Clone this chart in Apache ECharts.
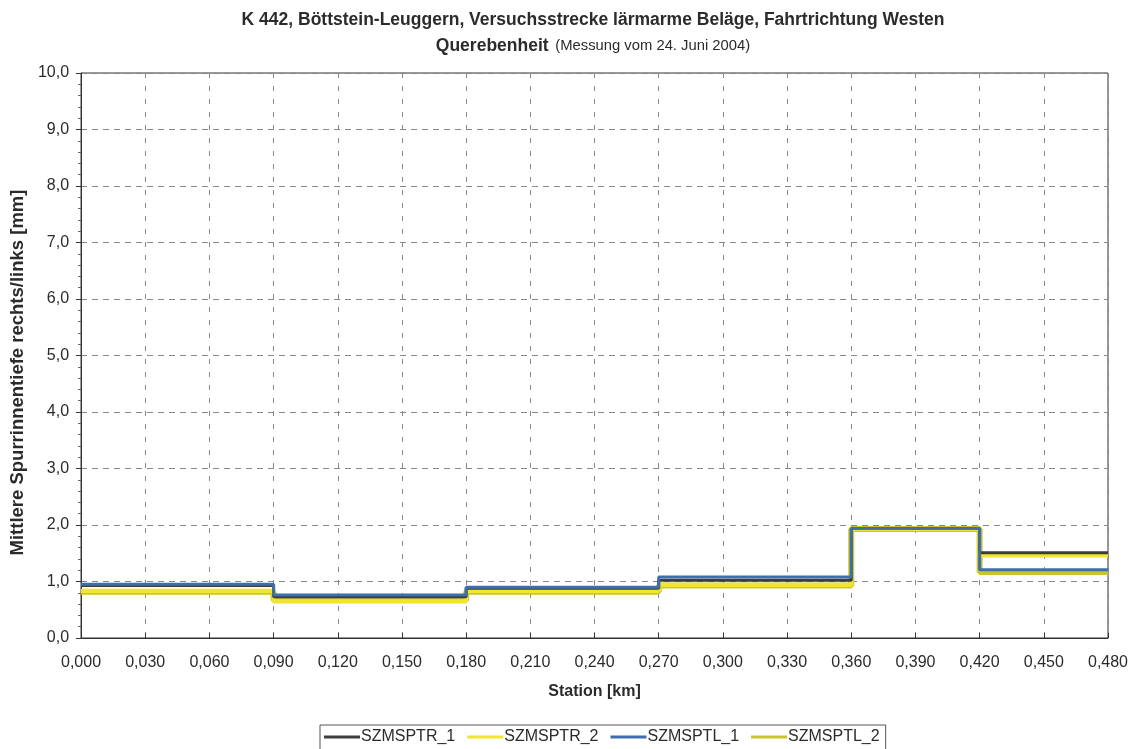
<!DOCTYPE html>
<html>
<head>
<meta charset="utf-8">
<script src="https://cdn.jsdelivr.net/npm/echarts@6/dist/echarts.min.js"></script>
<style>
  html, body { margin: 0; padding: 0; background: #fff; }
  #chart { width: 1137px; height: 749px; }
</style>
</head>
<body>
<div id="chart"></div>
<script>
// Section boundaries along the station axis [km]
const stations = [0.000, 0.090, 0.180, 0.270, 0.360, 0.420, 0.480];

// Mean rut depth per section [mm] (last value repeated to close the step)
const szmsptr1 = [0.93, 0.73, 0.88, 1.02, 1.94, 1.51, 1.51];
const szmsptr2 = [0.83, 0.65, 0.83, 0.94, 1.93, 1.46, 1.46];
const szmsptl1 = [0.95, 0.76, 0.90, 1.08, 1.94, 1.21, 1.21];
const szmsptl2 = [0.82, 0.67, 0.82, 0.93, 1.93, 1.17, 1.17];

const seriesNames = ['SZMSPTR_1', 'SZMSPTR_2', 'SZMSPTL_1', 'SZMSPTL_2'];

const fmt = (v, d) => v.toFixed(d).replace('.', ',');
const pairs = vals => stations.map((s, i) => [s, vals[i]]);

const FONT = '"Liberation Sans", Arial, sans-serif';
const TXT = '#2b2b2b';

function stepSeries(name, vals, color, width, z) {
  return {
    name: name,
    type: 'line',
    step: 'end',
    data: pairs(vals),
    symbol: 'none',
    z: z,
    lineStyle: { color: color, width: width },
    itemStyle: { color: color }
  };
}

const chart = echarts.init(document.getElementById('chart'), null, { renderer: 'canvas' });
chart.setOption({
  backgroundColor: '#ffffff',
  animation: false,
  textStyle: { fontFamily: FONT },
  title: {
    left: 588,
    textAlign: 'center',
    top: 6,
    itemGap: 8,
    text: 'K 442, Böttstein-Leuggern, Versuchsstrecke lärmarme Beläge, Fahrtrichtung Westen',
    textStyle: { fontFamily: FONT, fontSize: 17.5, fontWeight: 'bold', color: TXT },
    subtext: '{b|Querebenheit}  {n|(Messung vom 24. Juni 2004)}',
    subtextStyle: {
      rich: {
        b: { fontFamily: FONT, fontSize: 17.5, fontWeight: 'bold', color: TXT },
        n: { fontFamily: FONT, fontSize: 14.8, color: TXT }
      }
    }
  },
  legend: {
    bottom: -2,
    left: 320,
    data: seriesNames,
    icon: 'rect',
    itemWidth: 36,
    itemHeight: 3,
    itemGap: 12,
    padding: [4, 6, 6, 4],
    borderColor: '#555',
    borderWidth: 1,
    textStyle: { fontFamily: FONT, fontSize: 16, color: TXT, padding: [0, 0, 0, -4] }
  },
  grid: { left: 80, right: 29, top: 73, bottom: 111, show: true, borderColor: '#333', borderWidth: 1 },
  xAxis: {
    type: 'value',
    min: 0,
    max: 0.48,
    interval: 0.03,
    name: 'Station [km]',
    nameLocation: 'middle',
    nameGap: 46,
    nameTextStyle: { fontFamily: FONT, fontSize: 16, fontWeight: 'bold', color: TXT },
    axisLine: { lineStyle: { color: '#333', width: 1 } },
    axisTick: { show: true, inside: true, length: 5, lineStyle: { color: '#333' } },
    axisLabel: { fontFamily: FONT, fontSize: 16, color: TXT, margin: 17, formatter: v => fmt(v, 3) },
    splitLine: { show: true, lineStyle: { color: '#888', type: [5, 8], width: 1 } }
  },
  yAxis: {
    type: 'value',
    min: 0,
    max: 10,
    interval: 1,
    name: 'Mittlere Spurrinnentiefe rechts/links [mm]',
    nameLocation: 'middle',
    nameGap: 51,
    nameTextStyle: { fontFamily: FONT, fontSize: 18.5, fontWeight: 'bold', color: TXT, padding: [0, 34, 0, 0] },
    axisLine: { show: true, lineStyle: { color: '#333', width: 1 } },
    axisTick: { show: true, length: 5, lineStyle: { color: '#333' } },
    minorTick: { show: true, splitNumber: 5, length: 3, lineStyle: { color: '#666' } },
    axisLabel: { fontFamily: FONT, fontSize: 16, color: TXT, margin: 12, formatter: v => fmt(v, 1) },
    splitLine: { show: true, lineStyle: { color: '#888', type: [6, 5], width: 1 } }
  },
  series: [
    stepSeries('SZMSPTL_2', szmsptl2, '#c9c62c', 6, 2),
    stepSeries('SZMSPTR_2', szmsptr2, '#f2e52e', 4, 3),
    stepSeries('SZMSPTR_1', szmsptr1, '#3c3c3c', 3, 4),
    stepSeries('SZMSPTL_1', szmsptl1, '#3f6eac', 3, 5)
  ]
});
</script>
</body>
</html>
